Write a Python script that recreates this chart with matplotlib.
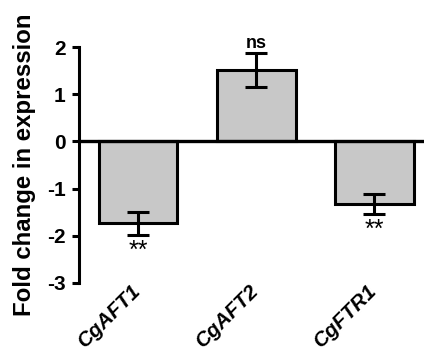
import matplotlib
matplotlib.use("Agg")
import matplotlib.pyplot as plt

genes = ["CgAFT1", "CgAFT2", "CgFTR1"]
fold_change = [-1.74, 1.52, -1.33]
errors = [0.24, 0.36, 0.21]
significance = ["**", "ns", "**"]
yticks = [-3, -2, -1, 0, 1, 2]

plt.rcParams['font.family'] = ['Liberation Sans', 'DejaVu Sans']

fig = plt.figure(figsize=(4.24, 3.51), dpi=100)
ax = fig.add_axes([0.186, 0.194, 0.836, 0.672])

x = list(range(len(genes)))
ax.bar(x, fold_change, width=0.667, color="#c8c8c8", edgecolor="black",
       linewidth=2.2, zorder=2)
ax.errorbar(x, fold_change, yerr=errors, fmt="none", ecolor="black",
            elinewidth=2.2, capsize=8, capthick=2.2, zorder=3)
ax.axhline(0, color="black", linewidth=2.4, zorder=4)

for xi, v, e, s in zip(x, fold_change, errors, significance):
    if v >= 0:
        ax.text(xi, v + e + 0.02, s, ha="center", va="bottom",
                fontsize=13, fontweight="bold")
    else:
        ax.text(xi, v - e - 0.09, s, ha="center", va="top",
                fontsize=18)

ax.set_xlim(-0.5, 2.5)
ax.set_ylim(-3, 2)
ax.set_yticks(yticks)
ax.set_yticklabels([str(t) for t in yticks], fontsize=15, fontweight="bold")
ax.set_xticks(x)
ax.set_xticklabels(genes, rotation=45, ha="right", va="center",
                   rotation_mode="anchor",
                   fontsize=15, fontweight="bold", fontstyle="italic")
ax.tick_params(axis="x", length=0, pad=3.5)
ax.tick_params(axis="y", length=5, width=2.2, direction="out", pad=4.5)

for side in ["top", "right", "bottom"]:
    ax.spines[side].set_visible(False)
ax.spines["left"].set_linewidth(2.2)

ax.set_ylabel("Fold change in expression", fontsize=17.3, fontweight="bold")
ax.yaxis.set_label_coords(-0.12, 0.5)

fig.savefig("out.png", dpi=100)
